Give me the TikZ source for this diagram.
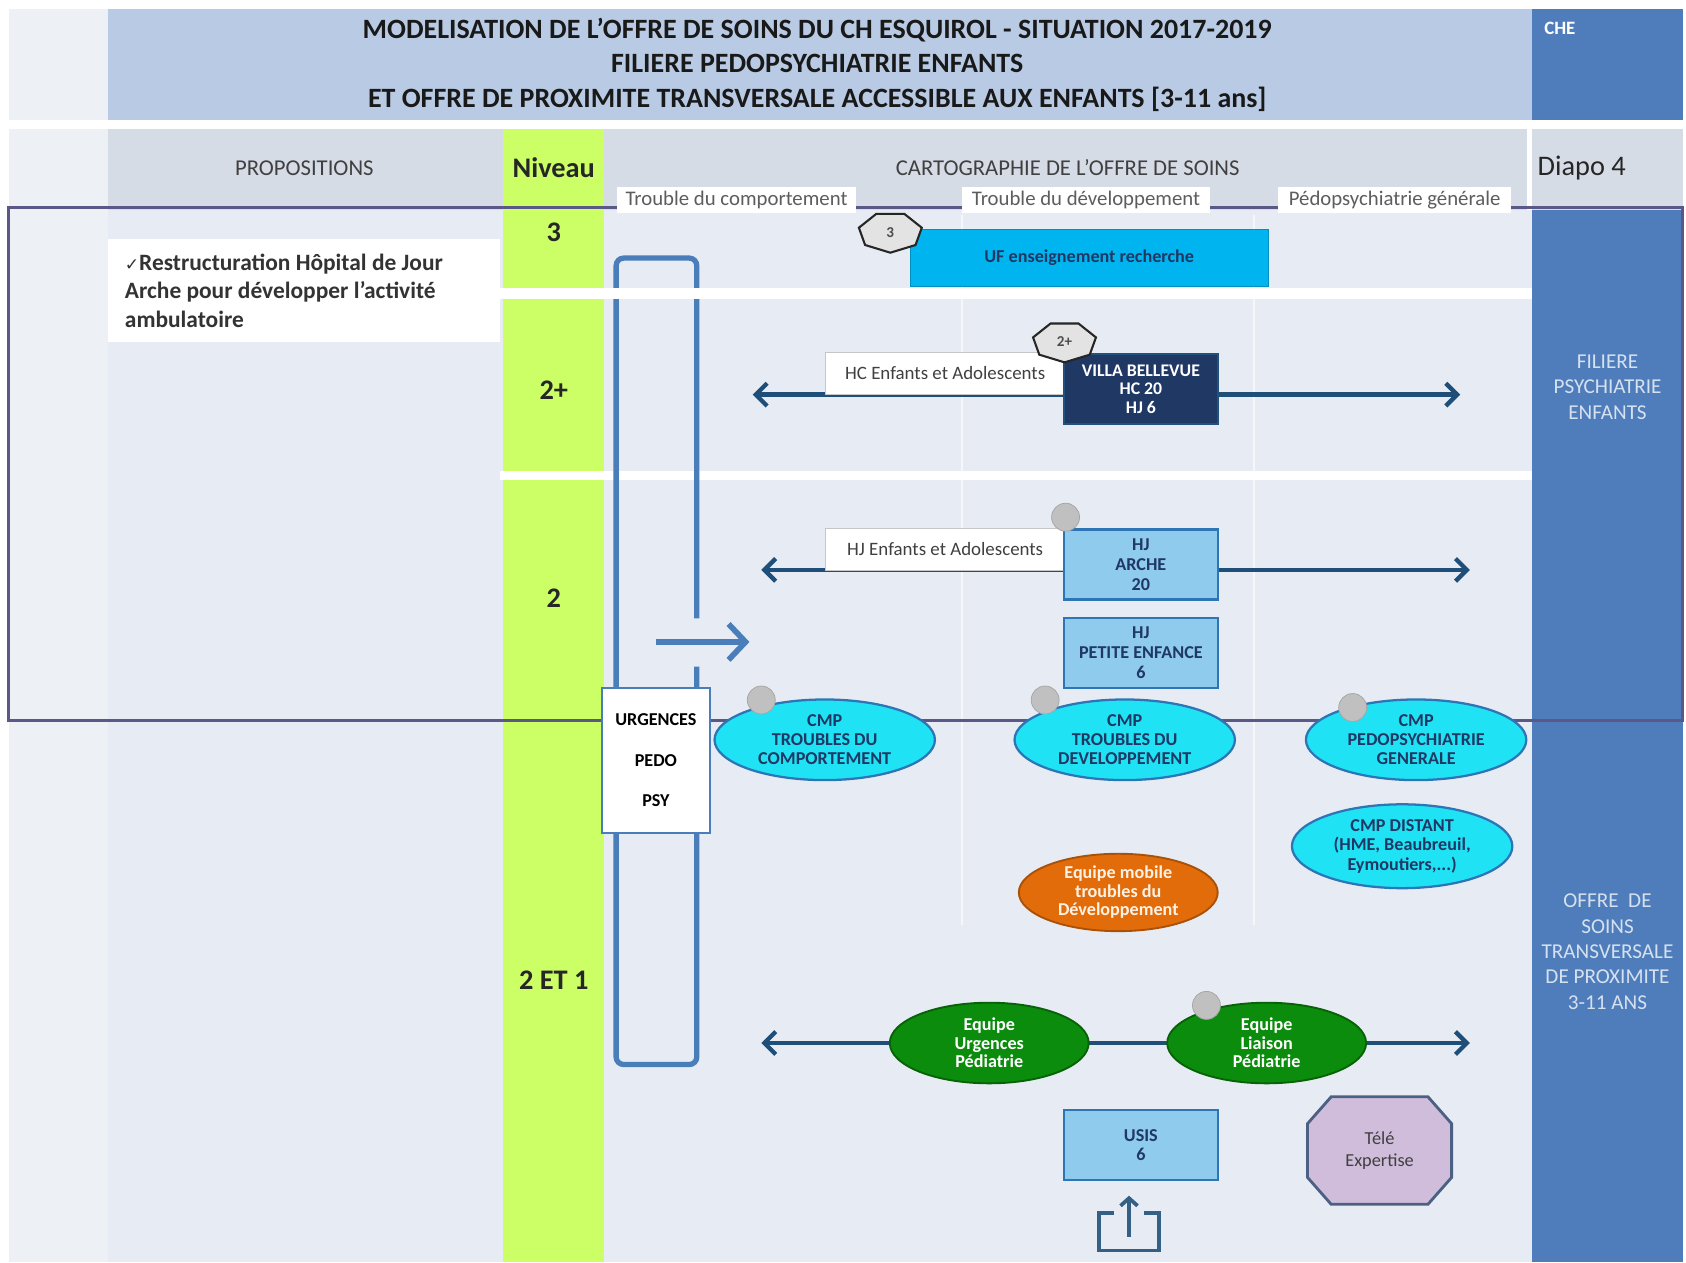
\documentclass[tikz,border=0pt]{standalone}
\usepackage{fontspec}
\setmainfont{Carlito}
\newfontfamily\symb{DejaVu Sans}
\usepackage{tikz}
\usetikzlibrary{arrows.meta,shapes.geometric}
\definecolor{fond}{HTML}{E7ECF4}
\definecolor{marge}{HTML}{EDF0F5}
\definecolor{titre}{HTML}{B9CBE4}
\definecolor{entete}{HTML}{D6DCE6}
\definecolor{jaune}{HTML}{CCFF66}
\definecolor{che}{HTML}{4F7DBB}
\definecolor{cadre}{HTML}{5B5888}
\definecolor{urg}{HTML}{4A7EBB}
\definecolor{fleche}{HTML}{1F4E79}
\definecolor{marine}{HTML}{1F3864}
\definecolor{hj}{HTML}{8FCBEC}
\definecolor{hjbord}{HTML}{2E75B6}
\definecolor{cyancmp}{HTML}{1FE3F5}
\definecolor{uf}{HTML}{00B4F0}
\definecolor{orangeem}{HTML}{E36C0A}
\definecolor{vert}{HTML}{0C8C0C}
\definecolor{tele}{HTML}{CFBDDB}
\definecolor{texte}{HTML}{404040}
\definecolor{pastille}{HTML}{C0C0C0}
\definecolor{clair}{HTML}{D6E1F0}
\tikzstyle{boite}=[rectangle, draw=hjbord, fill=hj, line width=1.2pt, minimum width=2.86cm, minimum height=1.3cm, align=center, inner sep=1pt, font=\fontsize{9.6}{10.5}\selectfont\bfseries, text=marine]
\tikzstyle{etiquette}=[rectangle, draw=gray!45, fill=white, minimum width=4.44cm, minimum height=0.78cm, font=\fontsize{10}{11}\selectfont, text=texte]
\tikzstyle{colonne}=[rectangle, fill=white, minimum height=0.5cm, inner sep=1pt, font=\fontsize{11}{13}\selectfont, text=texte!85]
\tikzstyle{cmpbulle}=[ellipse, draw=hjbord, fill=cyancmp, line width=1.2pt, minimum width=4.1cm, minimum height=1.5cm, inner sep=0pt, align=center, font=\fontsize{9.6}{10.2}\selectfont\bfseries, text=marine]
\tikzstyle{equipe}=[ellipse, draw=vert!70!black, fill=vert, line width=1pt, minimum width=3.7cm, minimum height=1.5cm, inner sep=0pt, align=center, font=\fontsize{9.6}{9.8}\selectfont\bfseries, text=white]
\tikzstyle{pastille}=[circle, draw=gray!70, fill=pastille, minimum size=0.52cm, inner sep=0pt]
\tikzstyle{badgeforme}=[draw=black!85, fill=gray!22, line width=1.1pt]
\tikzstyle{badge}=[inner sep=0pt, font=\fontsize{8}{9}\selectfont\bfseries, text=black!70]
\tikzstyle{niv}=[font=\fontsize{15}{17}\selectfont\bfseries, text=black!85]
\tikzstyle{entetetexte}=[font=\fontsize{12}{14}\selectfont, text=texte]
\tikzstyle{lateral}=[align=center, font=\fontsize{11.2}{13.4}\selectfont, text=clair]
\tikzstyle{lien}=[line width=2.3pt, draw=fleche, {Straight Barb[length=6pt,width=12pt]}-{Straight Barb[length=6pt,width=12pt]}]

\begin{document}
\begin{tikzpicture}[x=0.02cm, y=-0.02cm]
\useasboundingbox (0,0) rectangle (1568,1174);
\fill[white] (0,0) rectangle (1568,1174);
% fonds
\fill[marge] (8,8) rectangle (100,112);
\fill[marge] (8,120) rectangle (100,1174);
\fill[titre] (100,8) rectangle (1425,112);
\fill[che] (1425,8) rectangle (1565,112);
\fill[entete] (100,120) rectangle (1420,195);
\fill[entete] (1425,120) rectangle (1565,195);
\fill[fond] (100,195) rectangle (1425,1174);
\fill[che] (1425,195) rectangle (1565,1174);
\fill[jaune] (468,120) rectangle (562,1174);
\fill[white] (465,438) rectangle (1425,446);
\draw[white, opacity=0.6, line width=1pt] (895,200) -- (895,860);
\draw[white, opacity=0.6, line width=1pt] (1166,200) -- (1166,860);

% titres
\node[align=center, font=\fontsize{14.8}{18.2}\selectfont\bfseries, text=black!90] (titre) at (760,60)
  {MODELISATION DE L’OFFRE DE SOINS DU CH ESQUIROL - SITUATION 2017-2019\\FILIERE PEDOPSYCHIATRIE ENFANTS\\ET OFFRE DE PROXIMITE TRANSVERSALE ACCESSIBLE AUX ENFANTS [3-11 ans]};
\node[anchor=north west, font=\fontsize{10}{12}\selectfont\bfseries, text=white] (che) at (1430,14) {CHE};
\node[entetetexte] (prop) at (283,156) {PROPOSITIONS};
\node[niv] (niv) at (515,156) {Niveau};
\node[entetetexte] (carto) at (993,156) {CARTOGRAPHIE DE L’OFFRE DE SOINS};
\node[font=\fontsize{15}{17}\selectfont, text=black!85] (diapo) at (1471,156) {Diapo 4};

% niveaux
\node[niv] (n3) at (515,216) {3};
\node[niv] (n2p) at (515,363) {2+};
\node[niv] (n2) at (515,556) {2};
\node[niv] (n21) at (515,912) {2 ET 1};

% colonne droite
\node[lateral] (filiere) at (1495,360) {FILIERE\\PSYCHIATRIE\\ENFANTS};
\node[lateral] (transv) at (1495,885) {OFFRE\ \ DE\\SOINS\\TRANSVERSALE\\DE PROXIMITE\\3-11 ANS};

% proposition
\fill[white] (100,222) rectangle (465,318);
\node[anchor=north west, align=left, font=\fontsize{12.4}{15}\selectfont\bfseries, text=black!80] (restr) at (110,230)
  {{\symb\fontsize{9}{10}\selectfont ✓}Restructuration Hôpital de Jour\\Arche pour développer l’activité\\ambulatoire};

% cadre
\draw[cadre, line width=1.7pt] (8,193) rectangle (1565,670);
\node[colonne, minimum width=4.46cm] (tc) at (685,186) {Trouble du comportement};
\node[colonne, minimum width=4.6cm] (td) at (1010,186) {Trouble du développement};
\node[colonne, minimum width=4.34cm] (pg) at (1297,186) {Pédopsychiatrie générale};

% urgences
\draw[urg, line width=2.8pt, rounded corners=4pt] (648,575) -- (648,240) -- (573,240) -- (573,990) -- (648,990) -- (648,620);
\fill[white] (465,268) rectangle (1425,278);
\coordinate (urgA) at (610,597);
\coordinate (urgB) at (697,597);
\draw[urg, line width=3pt, -{Straight Barb[length=9pt,width=19pt]}] (urgA) -- (urgB);
\node[rectangle, draw=urg, fill=white, line width=1.2pt, minimum width=2cm, minimum height=2.7cm, align=center, font=\fontsize{9.6}{21.6}\selectfont\bfseries] (urg) at (610,707) {URGENCES\\PEDO\\PSY};

% niveau 3
\node[rectangle, fill=uf, draw=uf!80!black, minimum width=6.66cm, minimum height=1.06cm, font=\fontsize{9.6}{10}\selectfont\bfseries, text=marine] (uf) at (1013,240) {UF enseignement recherche};
\draw[badgeforme, shift={(828,216)}] (90:30 and 19) \foreach \a in {1,...,6}{ -- (90+\a*51.43:30 and 19)} -- cycle;
\node[badge] (b3) at (828,216) {3};

% niveau 2+
\coordinate (hcG) at (700,367);
\coordinate (hcD) at (1358,367);
\draw[lien] (hcG) -- (hcD);
\node[etiquette] (hc) at (879,347) {HC Enfants et Adolescents};
\node[boite, fill=marine, draw=hjbord!70!black, text=white, font=\fontsize{9.4}{9.6}\selectfont\bfseries] (villa) at (1061,362) {VILLA BELLEVUE\\HC 20\\HJ 6};
\draw[badgeforme, shift={(990,318)}] (90:30 and 19) \foreach \a in {1,...,6}{ -- (90+\a*51.43:30 and 19)} -- cycle;
\node[badge] (b2p) at (990,318) {2+};

% niveau 2
\coordinate (hjG) at (708,530);
\coordinate (hjD) at (1367,530);
\draw[lien] (hjG) -- (hjD);
\node[etiquette] (hje) at (879,511) {HJ Enfants et Adolescents};
\node[boite] (arche) at (1061,525) {HJ\\ARCHE\\20};
\node[pastille] (p1) at (991,481) {};
\node[boite] (petite) at (1061,607) {HJ\\PETITE ENFANCE\\6};

% CMP
\node[cmpbulle] (cmpc) at (767,688) {CMP\\TROUBLES DU\\COMPORTEMENT};
\node[cmpbulle] (cmpd) at (1046,688) {CMP\\TROUBLES DU\\DEVELOPPEMENT};
\node[cmpbulle] (cmpg) at (1317,688) {CMP\\PEDOPSYCHIATRIE\\GENERALE};
\node[cmpbulle, minimum height=1.56cm] (cmpx) at (1304,787) {CMP DISTANT\\(HME, Beaubreuil,\\Eymoutiers,...)};
\node[pastille] (p2) at (708,651) {};
\node[pastille] (p3) at (972,651) {};
\node[pastille] (p4) at (1258,658) {};

% equipes
\node[ellipse, draw=orangeem!75!black, fill=orangeem, line width=1pt, minimum width=3.7cm, minimum height=1.44cm, inner sep=0pt, align=center, font=\fontsize{9.6}{9.8}\selectfont\bfseries, text=white!90!orange] (mobile) at (1040,830) {Equipe mobile\\troubles du\\Développement};
\coordinate (eqG) at (708,970);
\coordinate (eqD) at (1367,970);
\draw[lien] (eqG) -- (eqD);
\node[equipe] (equ) at (920,970) {Equipe\\Urgences\\Pédiatrie};
\node[equipe] (eql) at (1178,970) {Equipe\\Liaison\\Pédiatrie};
\node[pastille] (p5) at (1122,935) {};

% bas
\node[boite] (usis) at (1061,1065) {USIS\\6};
\draw[draw=marine!80, fill=tele, line width=1.5pt] (1216,1045) -- (1238,1020) -- (1328,1020) -- (1350,1045) -- (1350,1095) -- (1328,1120) -- (1238,1120) -- (1216,1095) -- cycle;
\node[align=center, font=\fontsize{9.7}{11.4}\selectfont, text=texte] (tele) at (1283,1070) {Télé\\Expertise};
\draw[fleche!90, line width=2pt] (1036,1128) -- (1022,1128) -- (1022,1163) -- (1078,1163) -- (1078,1128) -- (1064,1128);
\coordinate (icA) at (1050,1150);
\coordinate (icB) at (1050,1112);
\draw[fleche!90, line width=2pt, -{Straight Barb[length=4pt,width=9pt]}] (icA) -- (icB);
\end{tikzpicture}
\end{document}
